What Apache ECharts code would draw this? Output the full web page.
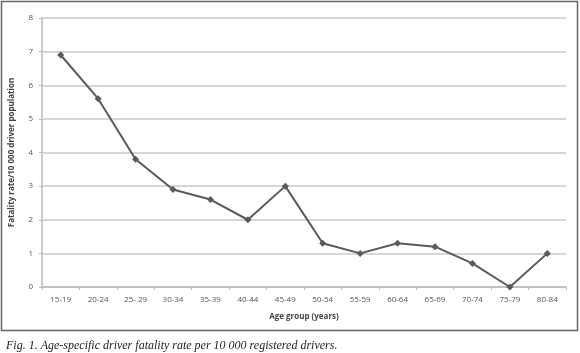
<!DOCTYPE html>
<html>
<head>
<meta charset="utf-8">
<script src="https://cdn.jsdelivr.net/npm/echarts@6/dist/echarts.min.js"></script>
<style>
  html, body { margin: 0; padding: 0; background: #fff; }
  #main { width: 580px; height: 353px; }
</style>
</head>
<body>
<div id="main"></div>
<script>
var ageGroups = ['15-19', '20-24', '25- 29', '30-34', '35-39', '40-44', '45-49', '50-54', '55-59', '60-64', '65-69', '70-74', '75-79', '80-84'];
var fatalityRate = [6.9, 5.6, 3.8, 2.9, 2.6, 2.0, 3.0, 1.3, 1.0, 1.3, 1.2, 0.7, 0.0, 1.0];
var yTicks = [0, 1, 2, 3, 4, 5, 6, 7, 8];

var chart = echarts.init(document.getElementById('main'), null, { renderer: 'canvas' });

var option = {
  animation: false,
  backgroundColor: '#fff',
  title: {
    text: 'Fig. 1. Age-specific driver fatality rate per 10 000 registered drivers.',
    left: 1,
    top: 335,
    textStyle: {
      fontFamily: 'Liberation Serif',
      fontStyle: 'italic',
      fontWeight: 'normal',
      fontSize: 12,
      color: '#222'
    }
  },
  graphic: [
    {
      type: 'rect',
      shape: { x: 1.5, y: 1.5, width: 576, height: 329 },
      style: { fill: 'none', stroke: '#666', lineWidth: 1.5 },
      silent: true
    }
  ],
  grid: {
    left: 40,
    right: 14,
    top: 18,
    bottom: 66
  },
  xAxis: {
    type: 'category',
    data: ageGroups,
    boundaryGap: true,
    name: 'Age group (years)',
    nameLocation: 'middle',
    nameGap: 26,
    nameTextStyle: {
      fontFamily: 'Open Sans',
      fontWeight: 'bold',
      fontSize: 8,
      color: '#444'
    },
    axisLine: { lineStyle: { color: '#bbb', width: 1.5 } },
    axisTick: { show: true, length: 3, lineStyle: { color: '#bbb' } },
    axisLabel: {
      fontFamily: 'Open Sans',
      fontSize: 8,
      color: '#555',
      margin: 9
    }
  },
  yAxis: {
    type: 'value',
    min: yTicks[0],
    max: yTicks[yTicks.length - 1],
    interval: 1,
    name: 'Fatality rate/10 000 driver population',
    nameLocation: 'middle',
    nameGap: 26,
    nameRotate: 90,
    nameTextStyle: {
      fontFamily: 'Open Sans',
      fontWeight: 'bold',
      fontSize: 8,
      color: '#444'
    },
    axisLine: { show: true, lineStyle: { color: '#bbb', width: 1.5 } },
    axisTick: { show: true, length: 3, lineStyle: { color: '#bbb' } },
    axisLabel: {
      fontFamily: 'Open Sans',
      fontSize: 8,
      color: '#555',
      margin: 9
    },
    splitLine: { show: true, lineStyle: { color: '#c8c8c8', width: 1.5 } }
  },
  series: [
    {
      type: 'line',
      data: fatalityRate,
      symbol: 'diamond',
      symbolSize: 7,
      lineStyle: { color: '#5a5a5a', width: 2 },
      itemStyle: { color: '#5a5a5a' }
    }
  ]
};

chart.setOption(option);
</script>
</body>
</html>
